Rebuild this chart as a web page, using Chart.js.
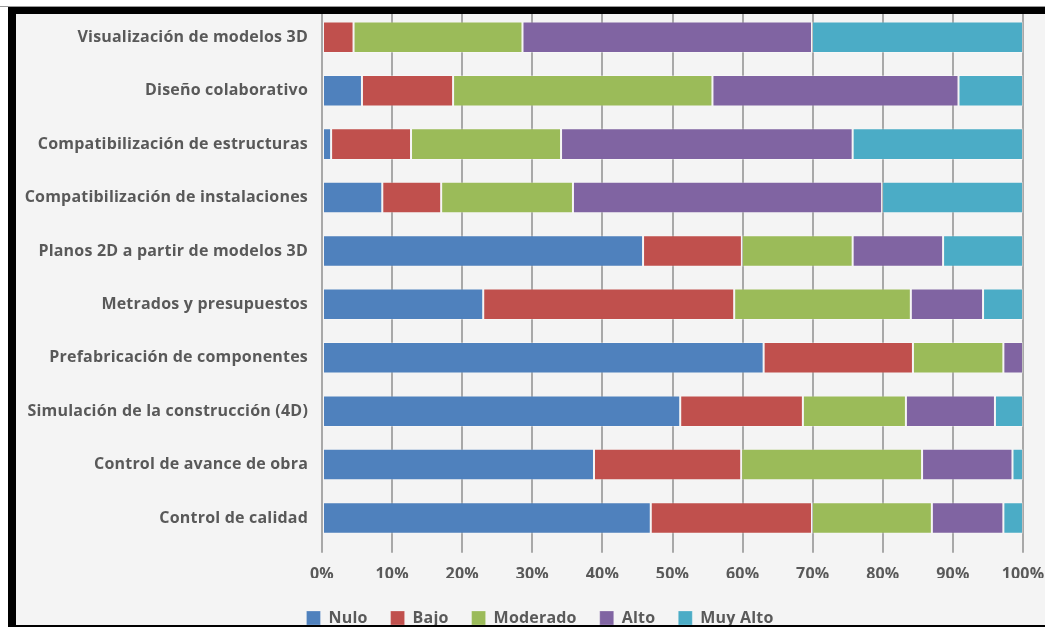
<!DOCTYPE html>
<html>
<head>
<meta charset="utf-8">
<script src="https://cdn.jsdelivr.net/npm/chart.js@4.4.1/dist/chart.umd.min.js"></script>
<style>
  html, body { margin: 0; padding: 0; background: #fff; }
  #wrap { position: relative; width: 1045px; height: 627px; }
</style>
</head>
<body>
<div id="wrap"><canvas id="chart"></canvas></div>
<script>
const categories = [
  'Visualización de modelos 3D',
  'Diseño colaborativo',
  'Compatibilización de estructuras',
  'Compatibilización de instalaciones',
  'Planos 2D a partir de modelos 3D',
  'Metrados y presupuestos',
  'Prefabricación de componentes',
  'Simulación de la construcción (4D)',
  'Control de avance de obra',
  'Control de calidad',
];
const nulo     = [0,    5.7,  1.3,  8.6,  45.8, 23.0, 63.0, 51.1, 38.8, 46.9];
const bajo     = [4.5,  13.0, 11.4, 8.4,  14.1, 35.8, 21.3, 17.5, 21.0, 23.0];
const moderado = [24.1, 37.0, 21.4, 18.8, 15.8, 25.2, 12.9, 14.7, 25.8, 17.1];
const alto     = [41.3, 35.1, 41.6, 44.1, 12.9, 10.3, 2.8,  12.7, 12.9, 10.2];
const muyAlto  = [30.1, 9.2,  24.3, 20.1, 11.4, 5.7,  0,    4.0,  1.5,  2.8];
const xTicks = [0, 10, 20, 30, 40, 50, 60, 70, 80, 90, 100];

const textColor = '#595959';
const font = { family: '"Open Sans", sans-serif', size: 16, weight: 'bold' };
const spacing = '0.2px';

// background, black frame, and legend placement
const frame = {
  id: 'frame',
  beforeLayout(chart) { chart.ctx.letterSpacing = spacing; },
  afterLayout(chart) {
    const lg = chart.legend;
    lg.left = 35;
    lg.right = 1045;
    lg.top = 618 - 22 - 9;
    lg.bottom = lg.top + lg.height;
  },
  beforeDraw(chart) {
    const c = chart.ctx;
    c.letterSpacing = spacing;
    c.save();
    c.fillStyle = '#fff';
    c.fillRect(0, 0, chart.width, chart.height);
    c.fillStyle = '#f4f4f4';
    c.fillRect(16, 14, chart.width - 16, 611);
    c.restore();
  },
  afterDraw(chart) {
    const c = chart.ctx;
    c.save();
    c.fillStyle = '#fff';
    c.fillRect(0, 0, chart.width, 6);
    c.fillStyle = '#9a9a9a';
    c.fillRect(0, 6, chart.width, 1);
    c.fillStyle = '#000';
    c.fillRect(8, 7, chart.width - 8, 7);
    c.fillRect(8, 7, 8, chart.height - 7);
    c.fillRect(8, 625, chart.width - 8, 2);
    c.restore();
  },
};

const ds = (label, data, color) => ({
  label, data,
  backgroundColor: color,
  borderColor: 'rgba(255,255,255,0.25)',
  borderWidth: 1,
  borderSkipped: false,
  barPercentage: 0.59,
  categoryPercentage: 1,
});

new Chart(document.getElementById('chart'), {
  type: 'bar',
  data: {
    labels: categories,
    datasets: [
      ds('Nulo', nulo, '#4f81bd'),
      ds('Bajo', bajo, '#c0504d'),
      ds('Moderado', moderado, '#9bbb59'),
      ds('Alto', alto, '#8064a2'),
      ds('Muy Alto', muyAlto, '#4bacc6'),
    ],
  },
  options: {
    indexAxis: 'y',
    responsive: true,
    maintainAspectRatio: false,
    animation: false,
    layout: { padding: { left: 0, right: 22, top: 10.6, bottom: 0 } },
    plugins: {
      legend: {
        position: 'bottom',
        labels: {
          color: textColor,
          font,
          boxWidth: 14,
          boxHeight: 14,
          padding: 23,
        },
      },
      tooltip: { enabled: false },
    },
    scales: {
      x: {
        stacked: true,
        min: 0,
        max: 100,
        afterBuildTicks: scale => { scale.ticks = xTicks.map(v => ({ value: v })); },
        afterFit: scale => {
          scale.paddingLeft = 0;
          scale.paddingRight = 0;
          scale.height = 627 - 544.7 - legendHeight(scale.chart);
        },
        ticks: {
          color: textColor,
          font,
          padding: 12,
          maxRotation: 0,
          callback: v => v + '%',
        },
        grid: { color: '#a8a8a8', lineWidth: 2, tickLength: 8 },
        border: { display: false },
      },
      y: {
        stacked: true,
        afterFit: scale => {
          scale.width = 322;
          scale.paddingTop = 0;
          scale.paddingBottom = 0;
        },
        ticks: { color: textColor, font, padding: 14 },
        grid: { display: false, drawTicks: false },
        border: { display: false },
      },
    },
  },
  plugins: [frame],
});

function legendHeight(chart) {
  return chart.legend ? chart.legend.height : 0;
}
</script>
</body>
</html>
